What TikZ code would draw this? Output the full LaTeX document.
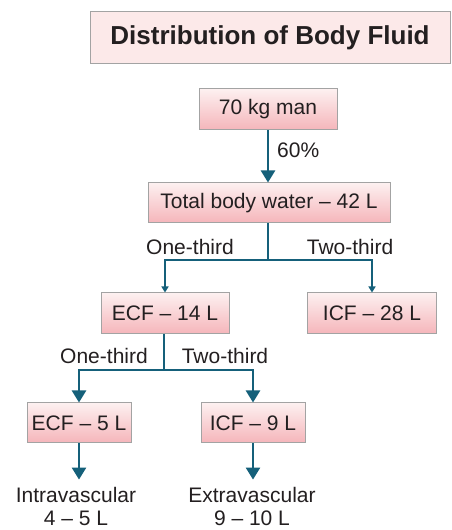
\documentclass[tikz,border=0pt]{standalone}
\usepackage{fontspec}
\setmainfont{Liberation Sans}
\usetikzlibrary{arrows.meta}
\definecolor{txt}{HTML}{231F20}
\definecolor{teal}{HTML}{15607A}
\definecolor{boxtop}{HTML}{FDF0F0}
\definecolor{boxbot}{HTML}{F5B5BA}
\definecolor{boxline}{HTML}{A3A3A3}
\definecolor{titlefill}{HTML}{FCE9E9}
\tikzset{
  fbox/.style={draw=boxline, line width=1pt, top color=boxtop, bottom color=boxbot,
    text=txt, font=\fontsize{21}{24}\selectfont, inner sep=0pt, minimum height=41pt},
  lbl/.style={text=txt, font=\fontsize{21}{24}\selectfont, inner sep=0pt},
  conn/.style={draw=teal, line width=2.4pt},
  bigarrow/.style={conn, -{Triangle[width=14pt,length=12pt]}},
  smallarrow/.style={conn, -{Triangle[width=7pt,length=6pt]}},
}
\begin{document}
\begin{tikzpicture}[x=1pt,y=1pt]
\useasboundingbox (0,0) rectangle (451,530);
\node[draw=boxline, line width=1pt, fill=titlefill, minimum width=360pt, minimum height=52pt,
  inner sep=0pt, text=txt, font=\bfseries\fontsize{26}{30}\selectfont] (title) at (270,492) {Distribution of Body Fluid};
\node[fbox, minimum width=138pt] (man) at (268,420.5) {70 kg man};
\node[fbox, minimum width=242pt, minimum height=40pt] (tbw) at (269,327) {Total body water -- 42 L};
\coordinate (j1) at (268,270);
\node[fbox, minimum width=128pt] (ecf14) at (165,216.5) {ECF -- 14 L};
\node[fbox, minimum width=129pt] (icf28) at (372,216.5) {ICF -- 28 L};
\coordinate (j2) at (164,160);
\node[fbox, minimum width=104pt, minimum height=40pt] (ecf5) at (79,107) {ECF -- 5 L};
\node[fbox, minimum width=104pt, minimum height=40pt] (icf9) at (253,107) {ICF -- 9 L};
\node[lbl, align=center, font=\fontsize{21}{23}\selectfont] (intra) at (76,24) {Intravascular\\4 -- 5 L};
\node[lbl, align=center, font=\fontsize{21}{23}\selectfont] (extra) at (252,24) {Extravascular\\9 -- 10 L};
\node[lbl, anchor=west] (p60) at (277,380) {60\%};
\node[lbl] (ot1) at (190,283) {One-third};
\node[lbl] (tt1) at (350,283) {Two-third};
\node[lbl] (ot2) at (104,174) {One-third};
\node[lbl] (tt2) at (225,174) {Two-third};
\draw[bigarrow] (man.south -| tbw.north) ++(-1,0) coordinate (a0) -- (a0 |- tbw.north);
\draw[conn] (tbw.south -| j1) -- (j1);
\draw[smallarrow] (j1) -| (ecf14.north);
\draw[smallarrow] (j1) -| (icf28.north);
\draw[conn] (ecf14.south -| j2) -- (j2);
\draw[bigarrow] (j2) -| (ecf5.north);
\draw[bigarrow] (j2) -| (icf9.north);
\draw[bigarrow, shorten >=7pt] (ecf5.south) -- (ecf5.south |- intra.north);
\draw[bigarrow, shorten >=7pt] (icf9.south) -- (icf9.south |- extra.north);
\end{tikzpicture}
\end{document}
